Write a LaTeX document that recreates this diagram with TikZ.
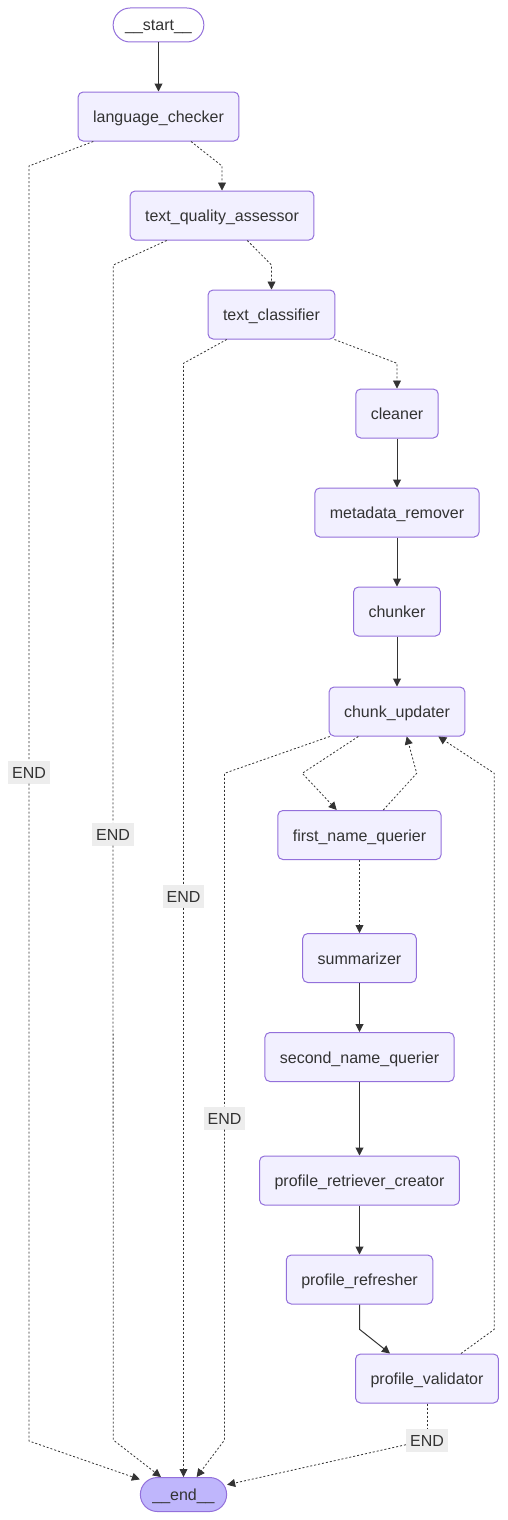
\documentclass[tikz,border=0pt]{standalone}
\usepackage{fontspec}
\setmainfont{Liberation Sans}
\usepackage{tikz}
\usetikzlibrary{arrows.meta,calc}
\definecolor{nodefill}{HTML}{F2F0FF}
\definecolor{nodeline}{HTML}{9370DB}
\definecolor{lastfill}{HTML}{BFB6FC}
\definecolor{ink}{HTML}{333333}
\definecolor{labelfill}{HTML}{EDEDED}
\tikzset{
	box/.style={draw=nodeline, fill=nodefill, line width=1pt, rounded corners=5pt, text=ink, inner xsep=15pt, inner ysep=0pt, minimum height=49pt, text height=13pt, text depth=1pt},
	pill/.style={box, rounded corners=17pt, inner xsep=12pt, minimum height=34pt},
	endlabel/.style={fill=labelfill, text=ink, inner xsep=4pt, inner ysep=0pt, minimum height=23pt, text height=13pt, text depth=1pt},
	edge/.style={draw=ink, line width=1pt, -{Triangle[length=8pt,width=8pt]}},
	dotline/.style={draw=ink, line width=0.8pt, dash pattern=on 2pt off 2pt},
	dotedge/.style={dotline, -{Triangle[length=8pt,width=8pt]}}
}
\begin{document}
\begin{tikzpicture}[x=1pt, y=-1pt, font=\fontsize{16}{19}\selectfont]
			%%%%% START %%%%%
			\useasboundingbox (0,0) rectangle (507,1520);
			
			\node[pill, fill=white] (start) at (158.5, 25) {\_\_start\_\_};
			\node[box] (lang) at (158.5, 116.5) {language\_checker};
			\node[box] (tqa) at (222, 215.5) {text\_quality\_assessor};
			\node[box] (tcls) at (271.5, 314.5) {text\_classifier};
			\node[box] (clean) at (397, 413.5) {cleaner};
			\node[box] (meta) at (397, 512.5) {metadata\_remover};
			\node[box] (chunk) at (397, 611.5) {chunker};
			\node[box] (cupd) at (397, 711.5) {chunk\_updater};
			\node[box] (fnq) at (359.5, 835) {first\_name\_querier};
			\node[box] (summ) at (359.5, 958) {summarizer};
			\node[box] (snq) at (359.5, 1057) {second\_name\_querier};
			\node[box] (prc) at (359.5, 1180.5) {profile\_retriever\_creator};
			\node[box] (refr) at (359.5, 1279.5) {profile\_refresher};
			\node[box] (pval) at (427, 1378.5) {profile\_validator};
			\node[pill, fill=lastfill] (endn) at (183.5, 1494.5) {\_\_end\_\_};
			
			\node[endlabel] (endA) at (29, 772) {END};
			\node[endlabel] (endB) at (113, 834) {END};
			\node[endlabel] (endC) at (183.5, 896) {END};
			\node[endlabel] (endD) at (224.5, 1118) {END};
			\node[endlabel] (endE) at (427, 1440) {END};
			
			% main line
			\draw[edge] (start) -- (lang);
			\draw[dotedge] ([xshift=32.5pt]lang.south) -- (222, 166) -- (tqa.north);
			\draw[dotedge] ([xshift=25.3pt]tqa.south) -- (271.5, 265) -- (tcls.north);
			\draw[dotedge] ([xshift=63pt]tcls.south) -- (397, 363.3) -- (clean.north);
			\draw[edge] (clean) -- (meta);
			\draw[edge] (meta) -- (chunk);
			\draw[edge] (chunk) -- (cupd);
			\draw[dotedge] ([xshift=-38.7pt]cupd.south) -- (302.3, 773.3) -- ([xshift=-22.8pt]fnq.north);
			\draw[dotedge] ([xshift=23.8pt]fnq.north) -- (416.7, 773.3) -- ([xshift=9.7pt]cupd.south);
			\draw[dotedge] (fnq) -- (summ);
			\draw[edge] (summ) -- (snq);
			\draw[edge] (snq) -- (prc);
			\draw[edge] (prc) -- (refr);
			\draw[edge] (refr.south) -- (359.5, 1329.3) -- ([xshift=-37pt]pval.north);
			\draw[dotedge] ([xshift=34pt]pval.north) -- (494.3, 1329.3) -- (494.3, 773.3) -- ([xshift=41.3pt]cupd.south);
			
			% exits to __end__
			\draw[dotline] ([xshift=-65.2pt]lang.south) -- (29, 166) -- (endA);
			\draw[dotedge] (endA) -- (29, 1441) -- (endn);
			\draw[dotline] ([xshift=-55.3pt]tqa.south) -- (113.3, 265) -- (endB);
			\draw[dotedge] (endB) -- (113.3, 1440) -- (endn);
			\draw[dotline] ([xshift=-44.8pt]tcls.south) -- (183.5, 363.3) -- (endC);
			\draw[dotedge] (endC) -- (endn);
			\draw[dotline] ([xshift=-67.3pt]cupd.south) -- (224.5, 773.3) -- (endD);
			\draw[dotedge] (endD) -- (224.5, 1440) -- (endn);
			\draw[dotline] (pval) -- (endE);
			\draw[dotedge] (endE) -- (endn);
			
			%%%%% END %%%%%
\end{tikzpicture}
\end{document}
